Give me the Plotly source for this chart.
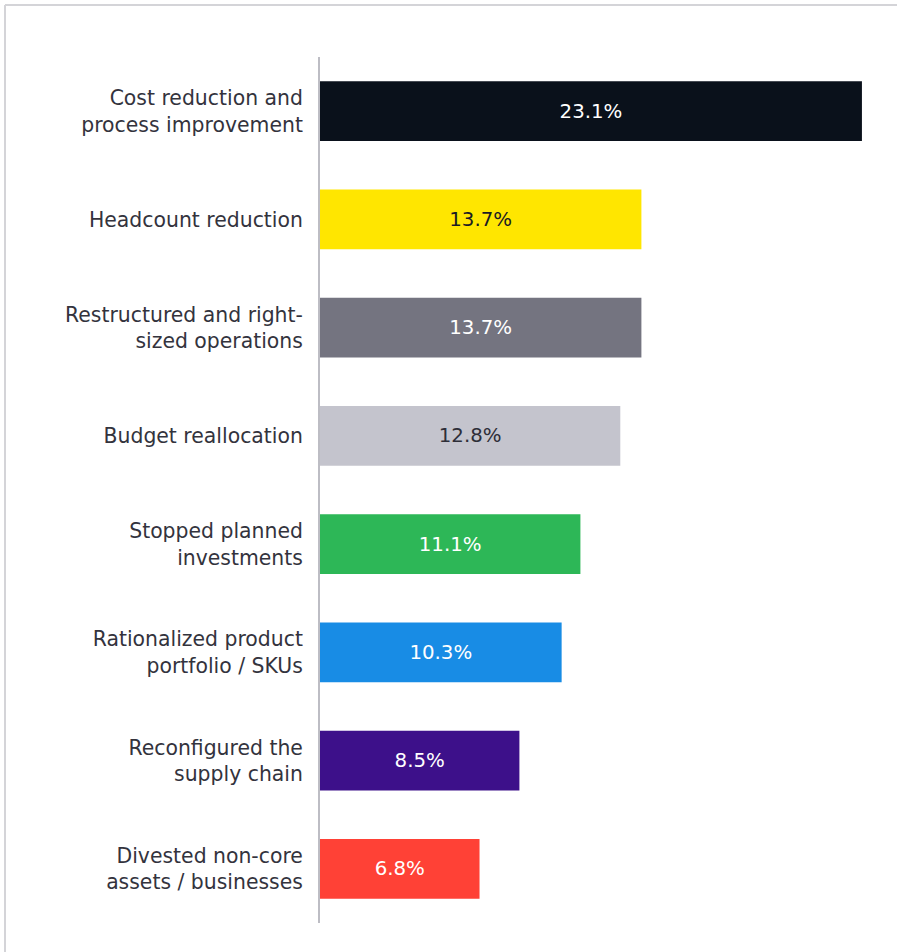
import plotly.graph_objects as go

categories = [
    "Cost reduction and<br>process improvement",
    "Headcount reduction",
    "Restructured and right-<br>sized operations",
    "Budget reallocation",
    "Stopped planned<br>investments",
    "Rationalized product<br>portfolio / SKUs",
    "Reconfigured the<br>supply chain",
    "Divested non-core<br>assets / businesses",
]
values = [23.1, 13.7, 13.7, 12.8, 11.1, 10.3, 8.5, 6.8]
bar_colors = ["#0a111b", "#ffe600", "#747480", "#c4c4cd",
              "#2db757", "#188ce5", "#3d108a", "#ff4136"]
text_colors = ["#ffffff", "#1a1a24", "#ffffff", "#2e2e38",
               "#ffffff", "#ffffff", "#ffffff", "#ffffff"]

W, H = 897, 952
L, R, T, B = 320, 16, 57, 29
FONT = "DejaVu Sans"

fig = go.Figure(go.Bar(
    y=categories,
    x=values,
    orientation="h",
    marker=dict(color=bar_colors, line=dict(width=0)),
    text=[f"{v:.1f}%" for v in values],
    textposition="inside",
    insidetextanchor="middle",
    textangle=0,
    textfont=dict(family=FONT, size=19.8, color=text_colors),
    hoverinfo="skip",
))

fig.update_layout(
    width=W, height=H,
    margin=dict(l=L, r=R, t=T, b=B),
    paper_bgcolor="white",
    plot_bgcolor="white",
    bargap=0.447,
    showlegend=False,
    xaxis=dict(range=[0, (W - L - R) / 23.46], visible=False, fixedrange=True),
    yaxis=dict(
        autorange="reversed",
        showline=True, linecolor="#bdbdc4", linewidth=2,
        showgrid=False, zeroline=False,
        ticks="", ticklabelstandoff=11,
        tickfont=dict(family=FONT, size=20.4, color="#33333d"),
    ),
)

# thin frame along the top and left edges of the page
px = lambda p: (p - L) / (W - L - R)
py = lambda p: 1 - (p - T) / (H - T - B)
frame = dict(color="#d4d4d8", width=2)
fig.add_shape(type="line", xref="paper", yref="paper",
              x0=px(5), x1=px(W + 5), y0=py(5), y1=py(5), line=frame)
fig.add_shape(type="line", xref="paper", yref="paper",
              x0=px(5), x1=px(5), y0=py(5), y1=py(H + 5), line=frame)

fig.write_html("out.html")
